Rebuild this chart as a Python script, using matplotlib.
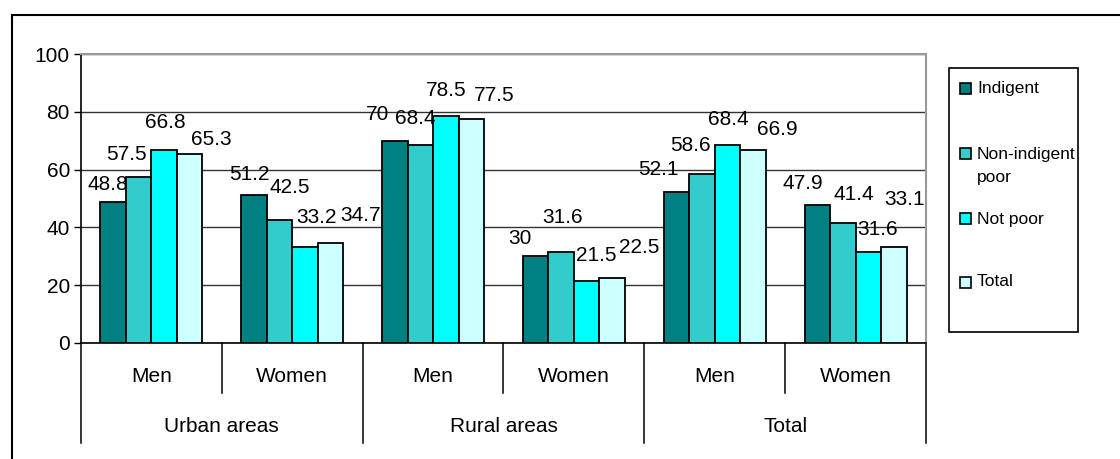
import matplotlib
matplotlib.use("Agg")
import matplotlib.pyplot as plt
from matplotlib.patches import Rectangle
from matplotlib.lines import Line2D
import numpy as np

plt.rcParams['font.family'] = ['Liberation Sans', 'DejaVu Sans']

areas = ["Urban areas", "Rural areas", "Total"]
sexes = ["Men", "Women"]
series = ["Indigent", "Non-indigent\npoor", "Not poor", "Total"]
colors = ["#008080", "#33CCCC", "#00FFFF", "#CCFFFF"]

indigent = [48.8, 51.2, 70, 30, 52.1, 47.9]
non_indigent_poor = [57.5, 42.5, 68.4, 31.6, 58.6, 41.4]
not_poor = [66.8, 33.2, 78.5, 21.5, 68.4, 31.6]
total = [65.3, 34.7, 77.5, 22.5, 66.9, 33.1]
values = [indigent, non_indigent_poor, not_poor, total]

yticks = [0, 20, 40, 60, 80, 100]

# label placement offsets (pixels from bar top-centre), per series, per subgroup
label_dx = [
    [-5, -5, -17, -16, -18.5, -15],
    [-12, 10.5, -5, 1, -12, 11],
    [1, 12, 0, 10, 0.5, 9],
    [22, 30.5, 23, 27, 24, 11],
]
label_dy = [
    [17, 20.5, 26, 18, 23, 21],
    [22, 33, 27, 34, 28.6, 29],
    [27, 30, 25.6, 25, 26, 22],
    [15, 27, 24, 30, 20, 48],
]

W, H = 1120, 459
fig = plt.figure(figsize=(W / 100, H / 100), dpi=100)
ax = fig.add_axes([81 / W, 1 - 343 / H, (926 - 81) / W, (343 - 54) / H])

n = len(indigent)
x = np.arange(n)
bw = 0.181
for j, (vals, c) in enumerate(zip(values, colors)):
    xs = x + (j - 1.5) * bw
    ax.bar(xs, vals, width=bw, color=c, edgecolor="black", linewidth=1.3, zorder=3)
    for i, (xi, v) in enumerate(zip(xs, vals)):
        lab = f"{v:g}"
        ax.annotate(lab, (xi, v), xytext=(label_dx[j][i], label_dy[j][i]),
                    textcoords="offset pixels",
                    ha="center", va="center", fontsize=15, zorder=4)

ax.set_xlim(-0.5, n - 0.5)
ax.set_ylim(0, 100)
ax.set_yticks(yticks)
ax.set_yticklabels([str(t) for t in yticks], fontsize=15)
ax.tick_params(axis="y", length=5, width=1, pad=3)
ax.set_xticks([])
ax.yaxis.grid(True, color="#333333", linewidth=1, zorder=0)
for s in ["top", "right"]:
    ax.spines[s].set_color("#999999")
    ax.spines[s].set_linewidth(1.5)
ax.spines["left"].set_linewidth(1.2)
ax.spines["bottom"].set_linewidth(1.2)

# category axis (two levels)
tr = ax.get_xaxis_transform()
def fy(py):
    return (343 - py) / (343 - 54)

for b in range(n + 1):
    xb = b - 0.5
    bottom = 443 if b % 2 == 0 else 393
    ax.add_line(Line2D([xb, xb], [0, fy(bottom)], transform=tr, color="black",
                       linewidth=1.1, clip_on=False))
for i in range(n):
    ax.text(i, fy(377), sexes[i % 2], transform=tr, ha="center", va="center", fontsize=15)
for k, a in enumerate(areas):
    ax.text(2 * k + 0.5, fy(427), a, transform=tr, ha="center", va="center", fontsize=15)

# legend (manual)
def fx(px):
    return px / W
def fyy(py):
    return 1 - py / H

fig.add_artist(Rectangle((fx(949), fyy(332)), fx(1078) - fx(949), fyy(68) - fyy(332),
                         transform=fig.transFigure, facecolor="white", edgecolor="black",
                         linewidth=1.2))
leg_y = [88, 166, 219, 282]
for lab, c, cy in zip(series, colors, leg_y):
    hy = cy if "\n" not in lab else 153
    fig.add_artist(Rectangle((fx(960), fyy(hy + 5.5)), 11 / W, 11 / H,
                             transform=fig.transFigure, facecolor=c, edgecolor="black",
                             linewidth=1.2))
    fig.text(fx(977), fyy(cy), lab, ha="left", va="center", fontsize=12.5, linespacing=1.6)

# outer border
fig.add_artist(Line2D([fx(12), fx(12)], [fyy(15), 0], transform=fig.transFigure,
                      color="black", linewidth=1.5))
fig.add_artist(Line2D([fx(12), 1], [fyy(15), fyy(15)], transform=fig.transFigure,
                      color="black", linewidth=1.5))

fig.savefig("out.png", dpi=100, facecolor="white")
